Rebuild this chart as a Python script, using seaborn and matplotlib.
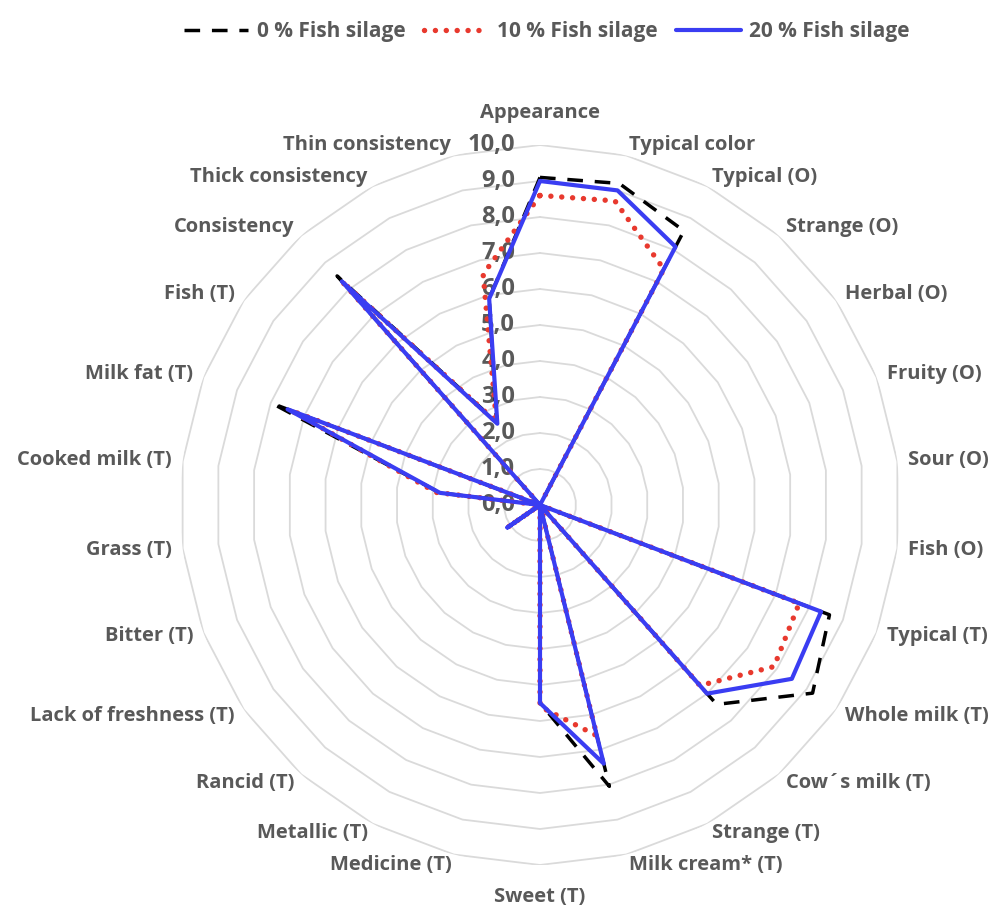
import matplotlib
matplotlib.use("Agg")
import matplotlib.pyplot as plt
import numpy as np
import pandas as pd
import seaborn as sns

categories = [
    "Appearance", "Typical color", "Typical (O)", "Strange (O)", "Herbal (O)",
    "Fruity (O)", "Sour (O)", "Fish (O)", "Typical (T)", "Whole milk (T)",
    "Cow\u00b4s milk (T)", "Strange (T)", "Milk cream* (T)", "Sweet (T)",
    "Medicine (T)", "Metallic (T)", "Rancid (T)", "Lack of freshness (T)",
    "Bitter (T)", "Grass (T)", "Cooked milk (T)", "Milk fat (T)", "Fish (T)",
    "Consistency", "Thick consistency", "Thin consistency",
]

fish_0 = [9.1, 9.2, 8.6, 0, 0, 0, 0, 0, 8.6, 9.2, 7.4, 0, 8.05, 5.5,
          0, 0, 0, 1.1, 0, 0, 2.8, 7.95, 0, 8.5, 2.6, 5.9]
fish_10 = [8.6, 8.7, 7.4, 0, 0, 0, 0, 0, 7.7, 7.9, 6.7, 0, 6.6, 5.6,
           0, 0, 0, 1.1, 0, 0, 2.9, 7.4, 0, 8.3, 2.6, 6.6]
fish_20 = [9.0, 9.0, 8.1, 0, 0, 0, 0, 0, 8.35, 8.5, 7.0, 0, 7.4, 5.5,
           0, 0, 0, 1.1, 0, 0, 2.8, 7.5, 0, 8.3, 2.55, 5.9]

series_names = ["0 % Fish silage", "10 % Fish silage", "20 % Fish silage"]
rings = list(range(0, 11))
ring_labels = [f"{r},0" for r in rings]

sns.set_theme(style="white")
plt.rcParams["font.family"] = ["Open Sans", "DejaVu Sans"]
plt.rcParams["font.weight"] = "bold"
text_color = "#595959"

n = len(categories)
theta = np.linspace(0, 2 * np.pi, n, endpoint=False)
theta_closed = np.append(theta, 2 * np.pi)

fig = plt.figure(figsize=(9.96, 9.05), dpi=100)
ax = fig.add_axes([180 / 996, 40 / 905, 720 / 996, 720 / 905], projection="polar")
ax.set_theta_offset(np.pi / 2)
ax.set_theta_direction(-1)
ax.set_ylim(0, 10)
ax.grid(False)
ax.set_xticks([])
ax.set_yticks([])
ax.spines["polar"].set_visible(False)

# polygon grid rings
for r in rings[1:]:
    ax.plot(theta_closed, [r] * (n + 1), color="#dadada", lw=1.3, zorder=1)

styles = {
    series_names[0]: dict(color="black", lw=2.5, linestyle=(0, (4.5, 3.4))),
    series_names[1]: dict(color="#e8392e", lw=3.9, linestyle=(0, (0.01, 2.0)),
                          dash_capstyle="round"),
    series_names[2]: dict(color="#3a3df2", lw=3.0, linestyle="-"),
}

for name, vals in zip(series_names, [fish_0, fish_10, fish_20]):
    df = pd.DataFrame({"theta": theta_closed, "value": vals + [vals[0]]})
    sns.lineplot(data=df, x="theta", y="value", ax=ax, sort=False,
                 label=name, zorder=3, **styles[name])

ax.set_xlabel("")
ax.set_ylabel("")

# category labels
for ang, lab in zip(theta, categories):
    s = np.sin(ang)
    if abs(s) < 0.01:
        ha = "center"
        va = "bottom" if np.cos(ang) > 0 else "top"
        rr = 10.6
    else:
        ha = "left" if s > 0 else "right"
        va = "center"
        rr = 10.3
    ax.text(ang, rr, lab, ha=ha, va=va, fontsize=14.5, color=text_color,
            fontweight="bold")

# value labels along the first axis
for r, lab in zip(rings, ring_labels):
    ax.annotate(lab, xy=(0, r), xytext=(-25, 0), textcoords="offset pixels",
                ha="right", va="center", fontsize=17, color=text_color,
                fontweight="bold", zorder=2)

leg = ax.legend(loc="upper center", bbox_to_anchor=(0.549, 0.997),
                bbox_transform=fig.transFigure, ncol=3, frameon=False,
                fontsize=15, handlelength=3.1, columnspacing=0.9,
                handletextpad=0.4)
for t in leg.get_texts():
    t.set_color(text_color)
    t.set_fontweight("bold")

fig.savefig("out.png", dpi=100, facecolor="white")
